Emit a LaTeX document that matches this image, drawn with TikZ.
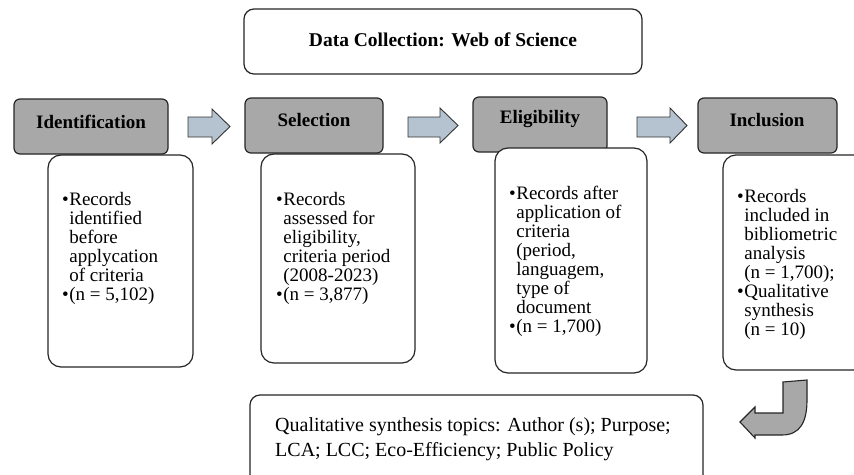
\documentclass[tikz,border=0pt]{standalone}
\usepackage{fontspec}
\setmainfont{Liberation Serif}
\begin{document}
\begin{tikzpicture}[x=1pt,y=-1pt,
  box/.style={draw=black!85,line width=1.2pt,rounded corners=10pt,fill=white},
  hdr/.style={draw=black!85,line width=1.2pt,rounded corners=6pt,fill=hdrgray},
  hdrtext/.style={font=\fontsize{19}{22}\selectfont\bfseries,inner sep=0pt},
  bodytext/.style={font=\fontsize{19}{19}\selectfont,align=left,inner sep=0pt,anchor=north west},
  blockarrow/.style={draw=black!80,line width=0.9pt,fill=arrowblue,line join=miter},
]
\definecolor{hdrgray}{HTML}{A8A8A8}
\definecolor{arrowblue}{HTML}{B5C2CF}
\useasboundingbox (0,0) rectangle (854,474);
\fill[white] (0,0) rectangle (854,474);

% top box
\draw[box] (244,9) rectangle (642,74);
\node[font=\fontsize{19.5}{22}\selectfont\bfseries,inner sep=0pt] (title) at (443,40) {Data Collection: Web of Science};

% headers
\draw[hdr] (14,99) rectangle (168,154);
\draw[hdr] (245,98) rectangle (383,153);
\draw[hdr] (473,97) rectangle (607,152);
\draw[hdr] (698,98) rectangle (837,153);
\node[hdrtext] (h1) at (91,122) {Identification};
\node[hdrtext] (h2) at (314,120) {Selection};
\node[hdrtext] (h3) at (540,119) {Eligibility};
\node[hdrtext] (h4) at (767,120) {Inclusion};

% content boxes
\draw[box,rounded corners=13pt] (48,155) rectangle (193,367);
\draw[box,rounded corners=13pt] (261,154) rectangle (415,363);
\draw[box,rounded corners=13pt] (495,148) rectangle (647,373);
\draw[box,rounded corners=13pt] (723,155) rectangle (874,370);

\newcommand{\bl}{\textbullet\hspace{0.5pt}}
\newcommand{\ind}{\hphantom{\textbullet\hspace{0.5pt}}}
\node[bodytext] (t1) at (62,192) {\bl Records\\\ind identified\\\ind before\\\ind applycation\\\ind of criteria\\\bl(n = 5,102)};
\node[bodytext] (t2) at (276,192) {\bl Records\\\ind assessed for\\\ind eligibility,\\\ind criteria period\\\ind (2008-2023)\\\bl(n = 3,877)};
\node[bodytext] (t3) at (509,186) {\bl Records after\\\ind application of\\\ind criteria\\\ind (period,\\\ind languagem,\\\ind type of\\\ind document\\\bl(n = 1,700)};
\node[bodytext] (t4) at (737,189) {\bl Records\\\ind included in\\\ind bibliometric\\\ind analysis\\\ind (n = 1,700);\\\bl Qualitative\\\ind synthesis\\\ind (n = 10)};

% right block arrows
\draw[blockarrow] (188,117) -- (212,117) -- (212,109) -- (230,126.5) -- (212,144) -- (212,137) -- (188,137) -- cycle;
\draw[blockarrow] (408,117) -- (440,117) -- (440,108) -- (458,125.5) -- (440,143) -- (440,137) -- (408,137) -- cycle;
\draw[blockarrow] (637,117) -- (670,117) -- (670,108) -- (687,125.5) -- (670,143) -- (670,137) -- (637,137) -- cycle;

% U-turn arrow
\draw[draw=black!85,line width=1.1pt,fill=hdrgray,line join=miter]
  (740,422) -- (755,407) -- (755,413) -- (783,413) -- (783,382) -- (807,380) -- (807,400)
  .. controls (807,422) and (800,435) .. (782,435) -- (755,435) -- (755,438) -- cycle;

% bottom box
\draw[box] (250,395) rectangle (703,500);
\node[font=\fontsize{20}{25}\selectfont,align=left,inner sep=0pt,anchor=north west] (bt) at (275,417) {Qualitative synthesis topics: Author (s); Purpose;\\LCA; LCC; Eco-Efficiency; Public Policy};
\end{tikzpicture}
\end{document}
